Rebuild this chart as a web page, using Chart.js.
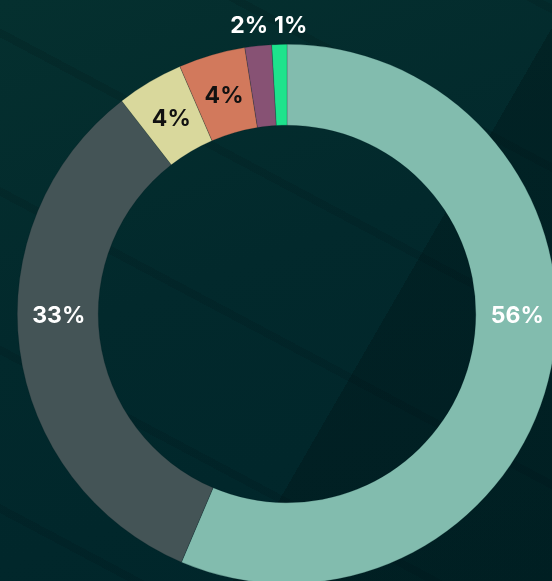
<!DOCTYPE html>
<html>
<head>
<meta charset="utf-8">
<script src="https://cdn.jsdelivr.net/npm/chart.js@4.4.1/dist/chart.umd.min.js"></script>
<style>
    html, body {
        margin: 0;
        padding: 0;
        width: 552px;
        height: 581px;
        overflow: hidden;
    }
    body {
        background-color: #02282b;
        background-image:
            linear-gradient(120deg, rgba(0,0,0,0) 64%, rgba(0,16,18,0.3) 64%),
            repeating-linear-gradient(28deg, rgba(255,255,255,0.0) 0px, rgba(255,255,255,0.0) 60px, rgba(0,10,12,0.12) 60px, rgba(0,10,12,0.12) 68px, rgba(255,255,255,0.0) 68px, rgba(255,255,255,0.0) 140px),
            linear-gradient(160deg, #05302f 0%, #02292c 45%, #00252a 100%);
    }
    #wrap {
        position: absolute;
        left: 0;
        top: 0;
        width: 574px;
        height: 628px;
    }
</style>
</head>
<body>
<div id="wrap"><canvas id="chart" width="574" height="628"></canvas></div>
<script>
// slice values (percent), starting at 12 o'clock, clockwise
const categories = ['Segment A', 'Segment B', 'Segment C', 'Segment D', 'Segment E', 'Segment F'];
const shares = [56.4, 33.1, 4.0, 4.0, 1.6, 0.9];

const sliceColors = ['#82bcae', '#445456', '#d9d89c', '#d2795c', '#875274', '#1de38c'];
const labelColors = ['#ffffff', '#ffffff', '#111111', '#111111', '#ffffff', '#ffffff'];
const labelFont = '700 23px Inter, "Noto Sans", sans-serif';

// draws the percentage labels; tiny slices get their label above the ring
const pctLabels = {
    id: 'pctLabels',
    afterDatasetsDraw(chart) {
        const ctx = chart.ctx;
        const meta = chart.getDatasetMeta(0);
        const values = chart.data.datasets[0].data;
        const total = values.reduce((a, b) => a + b, 0);
        const outside = [];

        ctx.save();
        ctx.textAlign = 'center';
        ctx.textBaseline = 'middle';
        ctx.font = labelFont;

        meta.data.forEach((arc, i) => {
            const p = arc.getProps(['x', 'y', 'startAngle', 'endAngle', 'innerRadius', 'outerRadius'], true);
            const text = Math.round(values[i] / total * 100) + '%';

            if (values[i] / total < 0.03) {
                const mid = (p.startAngle + p.endAngle) / 2;
                outside.push({
                    text,
                    x: p.x + Math.cos(mid) * p.outerRadius,
                    y: p.y - p.outerRadius - 18,
                    color: labelColors[i]
                });
                return;
            }

            // big slices: put the label at the horizontal extreme when the slice spans it
            let ang = (p.startAngle + p.endAngle) / 2;
            const twoPi = Math.PI * 2;
            [0, Math.PI, twoPi].forEach(a => {
                if (p.startAngle <= a && p.endAngle >= a) ang = a;
            });
            const r = (p.innerRadius + p.outerRadius) / 2;
            ctx.fillStyle = labelColors[i];
            ctx.fillText(text, p.x + Math.cos(ang) * r + 1, p.y + Math.sin(ang) * r + 2);
        });

        // spread the outside labels so they don't overlap
        if (outside.length) {
            outside.sort((a, b) => a.x - b.x);
            const gap = 6;
            const widths = outside.map(o => ctx.measureText(o.text).width);
            const totalW = widths.reduce((a, b) => a + b, 0) + gap * (outside.length - 1);
            const meanX = outside.reduce((a, o) => a + o.x, 0) / outside.length;
            let x = meanX - totalW / 2;
            outside.forEach((o, k) => {
                ctx.fillStyle = o.color;
                ctx.fillText(o.text, x + widths[k] / 2, o.y);
                x += widths[k] + gap;
            });
        }
        ctx.restore();
    }
};

new Chart(document.getElementById('chart'), {
    type: 'doughnut',
    data: {
        labels: categories,
        datasets: [{
            data: shares,
            backgroundColor: sliceColors,
            borderWidth: 0.6,
            borderColor: 'rgba(0,30,32,0.35)'
        }]
    },
    options: {
        responsive: false,
        animation: false,
        cutout: '70%',
        layout: { padding: 17 },
        plugins: {
            legend: { display: false },
            tooltip: { enabled: false }
        }
    },
    plugins: [pctLabels]
});
</script>
</body>
</html>
